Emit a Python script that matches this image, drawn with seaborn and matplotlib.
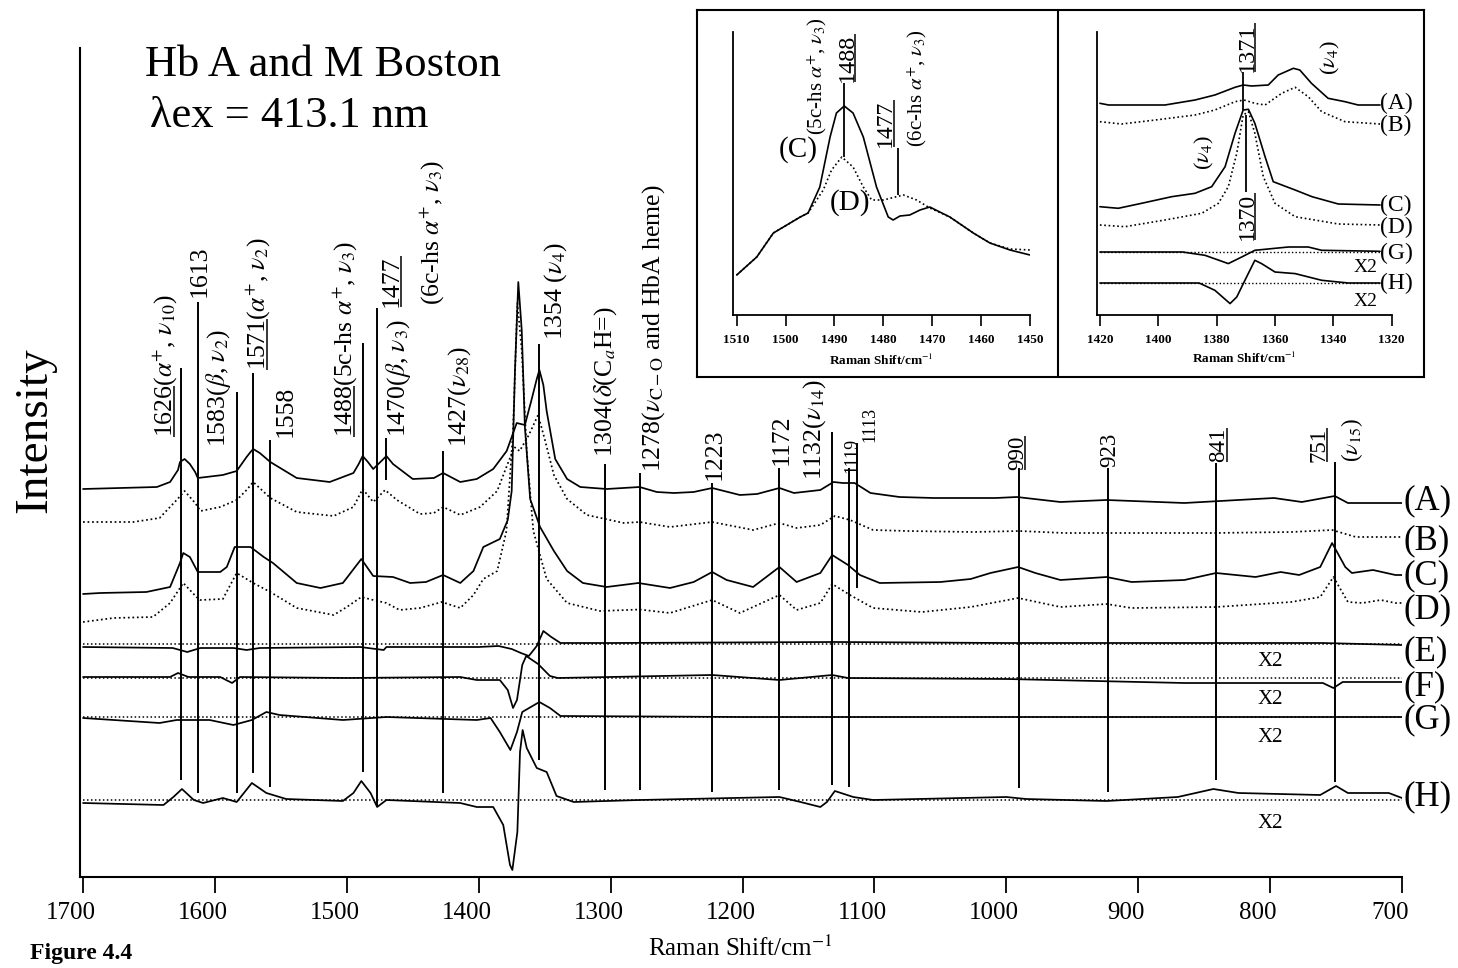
import matplotlib
matplotlib.use("Agg")
import matplotlib.pyplot as plt
import seaborn as sns
import numpy as np
from matplotlib.transforms import ScaledTranslation

# ---------------- main spectra (Raman shift in cm-1, intensity above each trace baseline) ----------------
wn_A = [1700, 1644, 1634, 1628, 1626.5, 1623, 1619, 1615, 1613, 1594, 1583.5, 1576, 1573, 1571, 1566, 1558,
        1538, 1513, 1495, 1491, 1488, 1484, 1480, 1473, 1470, 1465, 1450, 1434, 1427, 1414, 1401.5, 1389,
        1378.8, 1371.2, 1365, 1360, 1356, 1354, 1351, 1348.5, 1342, 1333, 1323, 1303, 1278, 1265, 1252,
        1237, 1223, 1202, 1189, 1172, 1161, 1141, 1131, 1124, 1115, 1103, 1081, 1055, 1008, 992, 959, 924,
        865, 797, 776, 751, 741, 705, 700]
int_A = [8, 10, 15, 27, 35, 38, 33, 25, 19, 22, 26, 40, 45, 48, 44, 35,
         19, 15, 24, 33, 41, 35, 28, 37, 41, 33, 18, 19, 24, 15, 18, 28,
         46, 74, 72, 97, 118, 127, 112, 86, 38, 18, 10, 8, 10, 5, 4,
         5, 9, 2, 3, 9, 4, 7, 15, 14, 14, 4, 0, -1, -1, 0, -5, -3,
         -6, -1, -5, 1, -6, -6, -6]

wn_B = [1700, 1662, 1642, 1629, 1623, 1615, 1611, 1596, 1583.5, 1576, 1571, 1558, 1538, 1510, 1495, 1488,
        1480, 1471, 1462, 1444.5, 1434, 1427, 1414, 1399, 1386, 1379, 1373, 1369, 1362, 1355, 1350, 1343,
        1333, 1318, 1290, 1278, 1255, 1223, 1192, 1172, 1159, 1141, 1130, 1118.5, 1101, 1075, 1025, 990,
        956, 924, 843, 784, 753, 735, 705, 700]
int_B = [10, 10, 14, 32, 41, 29, 21, 25, 32, 42, 50, 34, 20, 16, 25, 43,
         30, 42, 32, 18, 19, 25, 17, 25, 41, 65, 85, 81, 97, 117, 93, 57,
         33, 17, 9, 10, 5, 10, 2, 9, 4, 7, 16, 12, 2, 1, 0, 1,
         -1, -1, -1, 0, 2, -5, -5, -5]

wn_C = [1700, 1687, 1652, 1634, 1626.5, 1624, 1619, 1613, 1596, 1591, 1585, 1573, 1563, 1556, 1538, 1520,
        1503, 1489, 1480, 1465, 1452, 1440, 1427, 1414, 1404, 1396.5, 1384, 1378, 1375, 1372.5, 1370,
        1367.4, 1365, 1361, 1353.5, 1343, 1333, 1321, 1303, 1279, 1255, 1237, 1223, 1212, 1192, 1172,
        1159, 1141, 1132, 1120, 1111, 1096, 1050, 1027, 1012, 991, 978, 959, 924, 905, 865, 841, 811,
        792, 778, 762, 753, 743, 738, 722, 705, 700]
int_C = [-19, -18, -17, -12, 12, 22, 18, 3, 3, 8, 28, 28, 18, 12, -8, -13,
         -8, 16, -1, -2, -8, -7, 0, -8, 4, 28, 36, 55, 84, 205, 293,
         245, 148, 76, 48, 24, 4, -8, -12, -8, -13, -7, 3, -5, -12, 8,
         -7, 2, 20, 10, 0, -8, -7, -4, 2, 8, 2, -5, -2, -7, -5, 2, -2,
         3, 0, 8, 32, 8, 2, 5, 0, 0]

wn_D = [1700, 1677, 1647, 1634, 1624, 1614, 1611, 1594, 1583.5, 1571, 1558, 1538, 1510, 1500, 1489, 1480,
        1470, 1460, 1444.5, 1428, 1414, 1404, 1396.5, 1386, 1379, 1374, 1370.7, 1367.4, 1363.6, 1358.6,
        1348.5, 1333, 1308, 1278, 1255, 1223, 1202, 1172, 1159, 1141, 1132, 1118.5, 1101, 1064, 1027,
        991, 959, 924, 905, 841, 784, 762, 752, 741, 730, 716, 705, 700]
int_D = [-16, -12, -11, 3, 23, 9, 6, 7, 33, 23, 14, -2, -9, -1, 9, 6,
         3, -4, -2, 4, -2, 11, 27, 35, 75, 175, 303, 256, 155, 75,
         27, 3, -5, -3.5, -7, 6, -7, 11, -4, 3, 22, 11, -2, -6, -1,
         8, -1, 2, -2, -1, 4, 9, 29, 4, 3, 6, 3, 3]

wn_E = [1700, 1632, 1621, 1611, 1586, 1576, 1566, 1490, 1472, 1470, 1400, 1385, 1375, 1368, 1362, 1356,
        1351, 1345, 1338, 1300, 1130, 1000, 760, 700]
int_E = [-4, -5, -9, -5, -5, -7, -5, -4, -7, -4, -4, -3, -6, -10, -13, -3,
         12, 6, 0, 0, 1, 0, 0, -2]

wn_F = [1700, 1634, 1628, 1620, 1596, 1587, 1581, 1500, 1414, 1401.5, 1384, 1378, 1374, 1371, 1367, 1364,
        1355, 1346, 1340, 1223, 1172, 1132, 1120, 1000, 865, 760, 752, 745, 700]
int_F = [1, 1, 5, 1, 1, -5, 1, 0, 1, -2, -2, -12, -30, -22, 13, 22,
         14, 2, 0, 3, -2, 3, 0, -1, -5, -5, -10, -4, -4]

wn_G = [1700, 1642, 1629, 1604, 1586, 1572, 1561, 1551, 1503, 1470, 1401.5, 1391, 1384, 1376, 1371, 1367,
        1354, 1346, 1338, 1200, 700]
int_G = [-1, -6, -3, -3, -8, -3, 5, 2, -3, 0, -3, -1, -15, -33, -15, 5,
         15, 9, 1, 0, 0]

wn_H = [1700, 1639, 1631.5, 1625, 1616, 1609, 1594, 1583.5, 1572, 1561, 1546, 1503, 1495, 1489, 1482,
        1477, 1470, 1414, 1401.5, 1389, 1381.4, 1376.3, 1374.5, 1370.7, 1368.7, 1366.7, 1363.6, 1356,
        1348.5, 1341, 1328, 1278, 1172, 1156, 1141, 1136, 1130, 1116, 1101, 1000, 985, 924, 870, 843,
        824, 762, 750, 741, 710, 700]
int_H = [-3, -5, 3, 11, 0, -3, 2, -2, 17, 7, 1, -1, 7, 19, 7,
         -7, 0, -3, -7, -7, -25, -65, -70, -32, 48, 70, 52, 32,
         28, 4, -2, 0, 3, -2, -7, -2, 9, 3, 0, 3, 1, -1, 3, 11,
         7, 5, 14, 7, 7, 2]

trace_names = ["A", "B", "C", "D", "E", "F", "G", "H"]
trace_offsets = {"A": 380, "B": 345, "C": 302, "D": 271, "E": 234, "F": 199, "G": 160, "H": 77}
zero_lines = {"E": 233, "F": 199.5, "G": 160, "H": 77}
scaled_x2 = ["E", "F", "G", "H"]

# assigned bands: position, label, underlined part
band_wn = [1626, 1613, 1583, 1571, 1558, 1488, 1477, 1470, 1427, 1354, 1304, 1278, 1223, 1172,
           1132, 1119, 1113, 990, 923, 841, 751]
band_text = [r"1626($\alpha^{+}$, $\nu_{10}$)", "1613", r"1583($\beta$, $\nu_{2}$)",
             r"1571($\alpha^{+}$, $\nu_{2}$)", "1558", r"1488(5c-hs $\alpha^{+}$, $\nu_{3}$)", "1477",
             r"1470($\beta$, $\nu_{3}$)", r"1427($\nu_{28}$)", r"1354 ($\nu_{4}$)",
             r"1304($\delta$(C$_{a}$H=)", r"1278($\nu_{\mathrm{C-O}}$ and HbA heme)", "1223", "1172",
             r"1132($\nu_{14}$)", "1119", "1113", "990", "923", "841", "751"]
band_under = ["1626", None, None, "1571", None, "1488", "1477", None, None, None, None, None, None,
              None, None, None, None, "990", None, "841", "751"]
extra_text = {1477: r"(6c-hs $\alpha^{+}$, $\nu_{3}$)", 751: r"($\nu_{15}$)"}

# ---------------- inset 1: 1510-1450 cm-1, spectra C and D ----------------
ins1_wn_C = [1510, 1505.9, 1502.5, 1497, 1495.4, 1493, 1490.9, 1489.6, 1488, 1486.2, 1484.1, 1481.4, 1479,
             1478, 1476.6, 1474.6, 1472.5, 1470.5, 1466.4, 1461.6, 1458.2, 1454.1, 1450]
ins1_C = [40, 58, 82, 98, 102, 128, 178, 202, 209, 202, 178, 128, 98,
          95, 99, 100, 105, 108, 98, 82, 72, 65, 60]
ins1_wn_D = [1510, 1505.9, 1502.5, 1497, 1495.4, 1492.3, 1490.6, 1488.5, 1486.2, 1484.1, 1482.4, 1480,
             1475.9, 1473.2, 1470.5, 1466.4, 1461.6, 1458.2, 1454.1, 1450]
ins1_D = [40, 58, 82, 98, 102, 125, 145, 158, 148, 128, 115, 115,
          120, 115, 107, 98, 82, 72, 66, 65]

# ---------------- inset 2: 1420-1320 cm-1, spectra A, B, C, D, G, H ----------------
ins2_wn_A = [1420, 1417, 1397.7, 1387.4, 1380.6, 1373.7, 1370.9, 1368, 1362.3, 1358.9, 1353.7, 1351.5,
             1347.5, 1341.8, 1336, 1331.5, 1324]
ins2_A = [1.7, 0, 0, 5, 10, 17.7, 20, 19, 20, 30, 36.7, 35, 21.7, 6.7, 3.3, 0, 0]
ins2_wn_B = [1420, 1412.6, 1401, 1387.4, 1380.6, 1373.7, 1370.6, 1366.9, 1363.4, 1357.7, 1353.1, 1348.6,
             1344, 1336, 1324]
ins2_B = [2.3, 0, 4, 9, 14, 22.3, 24, 20.7, 19, 30.7, 36.7, 27.3, 12.3, 2.3, 0]
ins2_wn_C = [1420, 1413.7, 1405.7, 1395.4, 1387.4, 1381.7, 1377.1, 1373.7, 1370.9, 1369.1, 1366.9, 1363.4,
             1360.6, 1353.1, 1347.3, 1338.3, 1324]
ins2_C = [-1.7, -3.3, 1.7, 8.3, 11.7, 18.3, 38.3, 71.7, 95, 95.7, 81.7, 48.3, 23.3, 15, 8.3, 1, 0]
ins2_wn_D = [1420, 1411.4, 1397.7, 1385.1, 1379.4, 1376, 1373.1, 1370.9, 1369.1, 1366.9, 1364, 1360,
             1353.1, 1338.3, 1324]
ins2_D = [0, -1.7, 5, 11.7, 21.7, 38.3, 71.7, 110, 113.3, 91.7, 48.3, 21.7, 8.3, 1, 0]
ins2_wn_G = [1420, 1391.7, 1384, 1376, 1371.4, 1366.9, 1355.4, 1348.6, 1344, 1324]
ins2_G = [0, 0, -3.3, -11.6, -5, 1.7, 5, 5, 1.7, 0.7]
ins2_wn_H = [1420, 1386, 1380.6, 1375.4, 1373.1, 1370.3, 1366.9, 1364.6, 1360, 1353.1, 1344, 1334.9, 1324]
ins2_H = [0, 0, -7.3, -20.6, -14, 2.7, 22.7, 19.4, 11, 9.4, 2.7, 0, 0]
ins2_names = ["A", "B", "C", "D", "G", "H"]
ins2_offsets = {"A": 210, "B": 191, "C": 110, "D": 90, "G": 63, "H": 32}

# ---------------- style ----------------
sns.set_theme(style="ticks")
plt.rcParams["font.family"] = ["Liberation Serif", "DejaVu Serif"]
plt.rcParams["mathtext.fontset"] = "stix"
plt.rcParams["axes.edgecolor"] = "black"
plt.rcParams["xtick.color"] = "black"
plt.rcParams["text.color"] = "black"

W, H = 1458, 968
DPI = 100
fig = plt.figure(figsize=(W / DPI, H / DPI), dpi=DPI)
fig.patch.set_facecolor("white")


def rect(left, top, right, bottom):
    return [left / W, 1 - bottom / H, (right - left) / W, (bottom - top) / H]


def shift(ax, dx_px):
    return ax.transData + ScaledTranslation(dx_px / DPI, 0, fig.dpi_scale_trans)


renderer = fig.canvas.get_renderer()


def text_width(s, fs):
    t = fig.text(0, 0, s, fontsize=fs)
    w = t.get_window_extent(renderer=renderer).width
    t.remove()
    return w


def vlabel(ax, x, y, s, dx, fs, under=None):
    ax.text(x, y, s, transform=shift(ax, dx), rotation=90, rotation_mode="anchor",
            ha="left", va="baseline", fontsize=fs, clip_on=False)
    if under:
        w = text_width(under, fs)
        ax.plot([x, x], [y, y + w], transform=shift(ax, dx + 2.5), color="black", lw=1.1,
                solid_capstyle="butt", clip_on=False)


def trace(ax, wn, vals, off, dotted=False, lw=1.25):
    ls = (0, (1, 1.6)) if dotted else "-"
    sns.lineplot(x=wn, y=np.asarray(vals, dtype=float) + off, ax=ax, color="black", lw=lw,
                 linestyle=ls, sort=False, estimator=None, legend=False)


def style_axes(ax, lw):
    for side in ("top", "right"):
        ax.spines[side].set_visible(False)
    for side in ("left", "bottom"):
        ax.spines[side].set_linewidth(lw)
        ax.spines[side].set_color("black")
    ax.set_yticks([])
    ax.set_ylabel("")
    ax.set_xlabel("")


# ---------------- main panel ----------------
ax = fig.add_axes(rect(80, 48, 1402, 877))
ax.set_facecolor("white")
ax.set_xlim(1702.3, 700)
ax.set_ylim(0, 829)

traces = {"A": (wn_A, int_A, False), "B": (wn_B, int_B, True), "C": (wn_C, int_C, False),
          "D": (wn_D, int_D, True), "E": (wn_E, int_E, False), "F": (wn_F, int_F, False),
          "G": (wn_G, int_G, False), "H": (wn_H, int_H, False)}
for name in trace_names:
    wn, vals, dotted = traces[name]
    trace(ax, wn, vals, trace_offsets[name], dotted)
for name, level in zero_lines.items():
    trace(ax, [1700, 700], [0, 0], level, dotted=True, lw=1.1)

band_top = [509, 575, 485, 504, 437, 534, 569, 439, 426, 533, 413, 404, 394, 409, 445, 409, 434,
            409, 409, 414, 415]
band_bottom = [97, 84, 84, 104, 90, 105, 70, 397, 84, 117, 87, 87, 85, 87, 92, 90, 289, 89, 85, 97, 95]
ax.vlines(band_wn, band_bottom, band_top, colors="black", lw=1.4)

label_dx = [-9, 8, -12, 11, 21, -11, 21, 19, 22, 22, 6, 20, 8, 8.5, -12, 7, 17, 3.5, 7, 8, -10]
label_y = [440, 580, 430, 507, 440, 440, 570, 440, 430, 537, 420, 405, 397, 412, 397, 404, 435,
           407, 410, 415, 415]
label_fs = [18.5] * 15 + [13, 13, 16.5, 16.5, 16.5, 16.5]
for wn, s, ul, dx, y, fs in zip(band_wn, band_text, band_under, label_dx, label_y, label_fs):
    vlabel(ax, wn, y, s, dx, fs, ul)
vlabel(ax, 1477, 572, extra_text[1477], 61, 18.5)
vlabel(ax, 751, 415, extra_text[751], 23, 16.5)

trace_label_y = {"A": 376, "B": 336, "C": 301, "D": 267, "E": 225, "F": 190, "G": 157, "H": 80}
for name in trace_names:
    ax.text(699, trace_label_y[name], f"({name})", fontsize=25, ha="left", va="center", clip_on=False)
x2_y = {"E": 215, "F": 177, "G": 139, "H": 54}
for name in scaled_x2:
    ax.text(800, x2_y[name], "X2", fontsize=15, ha="center", va="center")

style_axes(ax, 1.5)
ax.set_xticks(list(range(1700, 699, -100)))
ax.tick_params(axis="x", direction="out", length=11.5, width=1.3, pad=6.5, labelsize=18,
               bottom=True, top=False)
for lab in ax.get_xticklabels():
    lab.set_transform(lab.get_transform() + ScaledTranslation(-0.12, 0, fig.dpi_scale_trans))

fig.text(740 / W, 1 - 948 / H, r"Raman Shift/cm$^{-1}$", fontsize=18, ha="center", va="center")
fig.text(30 / W, 1 - 954 / H, "Figure 4.4", fontsize=17, fontweight="bold", ha="left", va="center")
fig.text(35 / W, 1 - 430 / H, "Intensity", fontsize=34, rotation=90, ha="center", va="center")
fig.text(145 / W, 1 - 76 / H, "Hb A and M Boston", fontsize=32, ha="left", va="baseline")
fig.text(150 / W, 1 - 127 / H, "λex = 413.1 nm", fontsize=32, ha="left", va="baseline")

# ---------------- inset frame ----------------
frame = fig.add_axes(rect(697, 10, 1424, 377), zorder=2)
frame.set_facecolor("white")
frame.set_xticks([])
frame.set_yticks([])
for sp in frame.spines.values():
    sp.set_linewidth(1.5)
    sp.set_color("black")
frame.set_xlim(0, 1)
frame.set_ylim(0, 1)
frame.axvline((1058 - 697) / (1424 - 697), color="black", lw=1.5)

inset_tick_kw = dict(direction="out", length=8, width=1.2, pad=6, labelsize=9.5, bottom=True, top=False)

# left inset
ax1 = fig.add_axes(rect(733, 32, 1030, 315), zorder=3)
ax1.set_facecolor("none")
ax1.set_xlim(1510.76, 1450)
ax1.set_ylim(0, 283)
trace(ax1, ins1_wn_C, ins1_C, 0, False, 1.2)
trace(ax1, ins1_wn_D, ins1_D, 0, True, 1.2)
ax1.vlines([1488, 1477], [158, 120], [232, 167], colors="black", lw=1.3)
vlabel(ax1, 1488, 233, "1488", 8.7, 17.5, "1488")
vlabel(ax1, 1488, 180, r"(5c-hs $\alpha^{+}$, $\nu_{3}$)", -22, 15)
vlabel(ax1, 1477, 168, "1477", -7, 17, "1477")
vlabel(ax1, 1477, 168, r"(6c-hs $\alpha^{+}$, $\nu_{3}$)", 24, 15)
ax1.text(1497.5, 165, "(C)", fontsize=21, ha="center", va="center")
ax1.text(1486.8, 112, "(D)", fontsize=21, ha="center", va="center")
style_axes(ax1, 1.3)
ax1.set_xticks(list(range(1510, 1449, -10)))
ax1.tick_params(axis="x", **inset_tick_kw)
for lab in ax1.get_xticklabels():
    lab.set_fontweight("bold")
ax1.text(0.5, -0.159, r"Raman Shift/cm$^{-1}$", transform=ax1.transAxes, fontsize=9.5,
         fontweight="bold", ha="center", va="center")

# right inset
ax2 = fig.add_axes(rect(1096.7, 32, 1391.7, 315), zorder=3)
ax2.set_facecolor("none")
ax2.set_xlim(1421.1, 1320)
ax2.set_ylim(0, 283)
ins2 = {"A": (ins2_wn_A, ins2_A, False), "B": (ins2_wn_B, ins2_B, True), "C": (ins2_wn_C, ins2_C, False),
        "D": (ins2_wn_D, ins2_D, True), "G": (ins2_wn_G, ins2_G, False), "H": (ins2_wn_H, ins2_H, False)}
for name in ins2_names:
    wn, vals, dotted = ins2[name]
    trace(ax2, wn, vals, ins2_offsets[name], dotted, 1.2)
for name in ("G", "H"):
    trace(ax2, [1420, 1324], [0, 0], ins2_offsets[name], True, 1.0)
ax2.vlines([1371, 1370], [205, 123], [243, 200], colors="black", lw=1.3)
vlabel(ax2, 1371, 243, "1371", 10, 17.5, "1371")
vlabel(ax2, 1370, 75, "1370", 7, 17, "1370")
vlabel(ax2, 1339.4, 240, r"($\nu_{4}$)", 0, 16)
vlabel(ax2, 1382.6, 145, r"($\nu_{4}$)", 0, 16)
ins2_label_y = {"A": 212, "B": 190, "C": 110, "D": 88, "G": 62, "H": 32}
for name in ins2_names:
    ax2.text(1324, ins2_label_y[name], f"({name})", fontsize=17, ha="left", va="center", clip_on=False)
for yy in (47, 13):
    ax2.text(1329.1, yy, "X2", fontsize=14, ha="center", va="center", clip_on=False)
style_axes(ax2, 1.3)
ax2.set_xticks(list(range(1420, 1319, -20)))
ax2.tick_params(axis="x", **inset_tick_kw)
for lab in ax2.get_xticklabels():
    lab.set_fontweight("bold")
ax2.text(0.5, -0.152, r"Raman Shift/cm$^{-1}$", transform=ax2.transAxes, fontsize=9.5,
         fontweight="bold", ha="center", va="center")

fig.savefig("out.png", dpi=DPI, facecolor="white")
